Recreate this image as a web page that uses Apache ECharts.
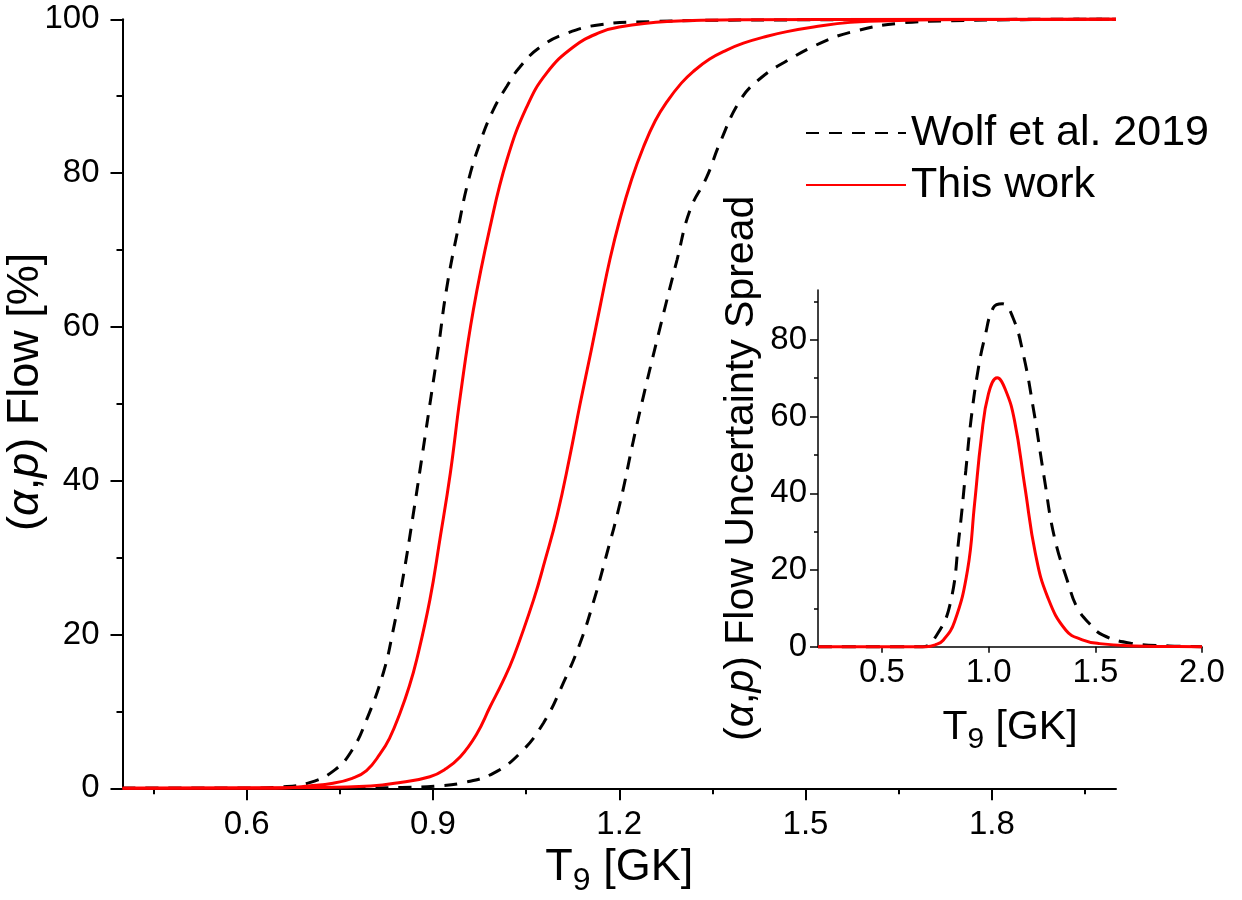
<!DOCTYPE html>
<html>
<head>
<meta charset="utf-8">
<script src="https://cdn.jsdelivr.net/npm/echarts@6/dist/echarts.min.js"></script>
<style>
html,body{margin:0;padding:0;background:#fff;}
#chart{width:1242px;height:900px;}
</style>
</head>
<body>
<div id="chart"></div>
<script>
// ---- Main panel: (alpha,p) flow [%] vs T9 ----
const wolfLowX = [0.40,0.60,0.65,0.70,0.742,0.77,0.793,0.82,0.836,0.852,0.868,0.884,0.897,0.909,0.922,0.941,0.957,0.976,0.997,1.019,1.04,1.073,1.116,1.169,1.25,1.40,2.00];
const wolfLowY = [0,0,0.15,0.7,2.4,5.0,8.9,15.0,20.6,27.5,35.5,44.0,51.0,57.5,65.0,73.0,79.0,84.0,88.2,91.3,93.8,96.4,98.2,99.3,99.7,99.9,100];

const wolfHighX = [0.40,0.70,0.85,0.906,0.949,0.997,1.040,1.078,1.110,1.137,1.158,1.180,1.201,1.223,1.239,1.266,1.293,1.314,1.341,1.362,1.395,1.427,1.470,1.524,1.572,1.652,1.733,1.85,2.00];
const wolfHighY = [0,0,0.1,0.3,0.73,1.95,4.55,8.5,13.7,18.9,24.1,30.5,37.0,45.3,51.0,60.0,68.7,75.2,79.5,83.9,89.5,92.3,94.6,96.9,98.3,99.5,99.8,99.95,100];

const thisLowX = [0.40,0.60,0.66,0.70,0.739,0.77,0.793,0.815,0.83,0.847,0.862,0.874,0.895,0.911,0.928,0.944,0.965,0.992,1.019,1.051,1.083,1.126,1.169,1.20,1.277,1.40,2.00];
const thisLowY = [0,0,0.05,0.3,0.65,1.3,2.3,4.5,6.5,9.8,13.3,16.8,24.5,32.3,41.0,51.0,62.2,73.0,81.7,88.6,93.0,96.4,98.3,99.0,99.7,99.95,100];

const thisHighX = [0.40,0.70,0.80,0.85,0.895,0.92,0.944,0.97,0.992,1.012,1.030,1.062,1.080,1.10,1.12,1.137,1.155,1.17,1.185,1.201,1.22,1.239,1.258,1.277,1.30,1.319,1.345,1.373,1.40,1.438,1.47,1.513,1.572,1.65,1.80,2.00];
const thisHighY = [0,0.1,0.3,0.8,1.5,2.5,4.1,7.0,10.6,13.8,17.1,24.5,29.5,35.5,43.0,50.0,57.0,63.0,68.8,74.0,79.2,83.4,86.8,89.3,91.7,93.2,94.8,96.0,96.9,97.8,98.4,99.0,99.6,99.85,99.97,100];

// ---- Inset: flow uncertainty spread ----
const insetWolfX = [0.20,0.69,0.756,0.820,0.861,0.893,0.917,0.950,0.982,1.023,1.064,1.113,1.162,1.211,1.260,1.308,1.373,1.413,1.471,1.536,1.667,1.846,2.00];
const insetWolfY = [0,0,3.0,11.3,28.6,46,59,72,80.7,88.5,89.4,85.9,76.3,61.6,44.2,28.6,16.5,10.4,6.1,3.0,0.9,0.2,0];

const insetThisX = [0.20,0.706,0.75,0.787,0.84,0.901,0.934,0.966,0.999,1.040,1.080,1.121,1.170,1.219,1.276,1.362,1.439,1.520,1.683,1.85,2.00];
const insetThisY = [0,0,0.5,1.7,6.5,20,37.3,54.6,65.9,70.1,66.8,59,41.6,24.3,13,4.3,1.8,0.8,0.2,0.05,0];

// ---- Tick labels ----
const mainXTicks = [0.6,0.9,1.2,1.5,1.8];
const mainXMinor = [0.45,0.75,1.05,1.35,1.65,1.95];
const insetXTicks = [0.5,1.0,1.5,2.0];
const insetYTicks = [0,20,40,60,80];
const insetYMinor = [10,30,50,70,90];

const legendNames = ['Wolf et al. 2019','This work'];

const FONT = 'Liberation Sans, Arial, sans-serif';
const pairs = (xs, ys) => xs.map((x, i) => [x, ys[i]]);

const axisLineStyle = {color:'#000', width:2};
const labelStyle = {color:'#000', fontSize:33, fontFamily:FONT};

const chart = echarts.init(document.getElementById('chart'), null, {renderer:'canvas'});

const dashed = (name, data, xi, yi, dash) => ({
  name, type:'line', data, xAxisIndex:xi, yAxisIndex:yi,
  symbol:'none', smooth:0.45, clip:false,
  itemStyle:{color:'#000'},
  lineStyle:{color:'#000', width:3, type:dash}
});
const solid = (name, data, xi, yi) => ({
  name, type:'line', data, xAxisIndex:xi, yAxisIndex:yi,
  symbol:'none', smooth:0.45, clip:false,
  itemStyle:{color:'#ff0000'},
  lineStyle:{color:'#ff0000', width:3, type:'solid'}
});

const titleRich = (size) => ({
  a:{fontSize:size, fontFamily:FONT, color:'#000', lineHeight:size*1.2},
  s:{fontSize:Math.round(size*0.72), fontFamily:FONT, color:'#000', lineHeight:size*0.6, padding:[size*0.6,0,0,0]},
  i:{fontSize:size, fontFamily:FONT, color:'#000', fontStyle:'italic', lineHeight:size*1.2}
});

const option = {
  animation:false,
  backgroundColor:'#fff',
  legend:{
    data:legendNames,
    orient:'vertical',
    left:800, top:104,
    itemWidth:100, itemHeight:20, itemGap:4,
    itemStyle:{opacity:0},
    textStyle:{color:'#000', fontSize:43, fontFamily:FONT, lineHeight:48},
    selectedMode:false
  },
  grid:[
    {left:122.5, right:126, top:19.3, bottom:111.7, outerBoundsMode:'none'},
    {left:818, right:40, top:290, bottom:253.3, outerBoundsMode:'none'}
  ],
  xAxis:[
    {
      gridIndex:0, type:'value', min:0.4, max:2.0, position:'bottom',
      axisLine:{lineStyle:axisLineStyle},
      axisTick:{customValues:mainXTicks, length:12, lineStyle:axisLineStyle},
      axisLabel:Object.assign({customValues:mainXTicks, margin:20, formatter:v=>v.toFixed(1)}, labelStyle),
      splitLine:{show:false},
      name:'{a|T}{s|9}{a| [GK]}', nameLocation:'middle', nameGap:52, nameMoveOverlap:false,
      nameTextStyle:{rich:titleRich(45)}
    },
    {
      gridIndex:0, type:'value', min:0.4, max:2.0, position:'bottom',
      axisLine:{show:false},
      axisTick:{customValues:mainXMinor, length:6, lineStyle:axisLineStyle},
      axisLabel:{show:false}, splitLine:{show:false}
    },
    {
      gridIndex:1, type:'value', min:0.2, max:2.0, position:'bottom',
      axisLine:{lineStyle:{color:'#000', width:1.5}},
      axisTick:{customValues:insetXTicks, length:6, lineStyle:{color:'#000', width:1.5}},
      axisLabel:Object.assign({customValues:insetXTicks, margin:10, formatter:v=>v.toFixed(1)}, labelStyle),
      splitLine:{show:false},
      name:'{a|T}{s|9}{a| [GK]}', nameLocation:'middle', nameGap:56, nameMoveOverlap:false,
      nameTextStyle:{rich:titleRich(41)}
    }
  ],
  yAxis:[
    {
      gridIndex:0, type:'value', min:0, max:100, interval:20, position:'left',
      axisLine:{lineStyle:axisLineStyle},
      axisTick:{length:12, lineStyle:axisLineStyle},
      minorTick:{show:true, splitNumber:2, length:6, lineStyle:axisLineStyle},
      axisLabel:Object.assign({margin:23}, labelStyle),
      splitLine:{show:false}, minorSplitLine:{show:false},
      name:'{a|(}{i|α}{a|,}{i|p}{a|) Flow [%]}', nameLocation:'middle', nameRotate:90, nameGap:70, nameMoveOverlap:false,
      nameTextStyle:{rich:titleRich(45), padding:[0,0,0,24]}
    },
    {
      gridIndex:1, type:'value', min:0, max:93, position:'left',
      axisLine:{lineStyle:{color:'#000', width:1.5}},
      axisTick:{customValues:insetYTicks, length:8, lineStyle:{color:'#000', width:1.5}},
      axisLabel:Object.assign({customValues:insetYTicks, margin:11}, labelStyle),
      splitLine:{show:false},
      name:'{a|(}{i|α}{a|,}{i|p}{a|) Flow Uncertainty Spread}', nameLocation:'middle', nameRotate:90, nameGap:52, nameMoveOverlap:false,
      nameTextStyle:{rich:titleRich(41)}
    },
    {
      gridIndex:1, type:'value', min:0, max:93, position:'left',
      axisLine:{show:false},
      axisTick:{customValues:insetYMinor, length:4, lineStyle:{color:'#000', width:1.5}},
      axisLabel:{show:false}, splitLine:{show:false}
    }
  ],
  series:[
    dashed(legendNames[0], pairs(wolfLowX, wolfLowY), 0, 0, [13,10]),
    dashed(legendNames[0], pairs(wolfHighX, wolfHighY), 0, 0, [13,10]),
    solid(legendNames[1], pairs(thisLowX, thisLowY), 0, 0),
    solid(legendNames[1], pairs(thisHighX, thisHighY), 0, 0),
    dashed(legendNames[0], pairs(insetWolfX, insetWolfY), 2, 1, [14,10]),
    solid(legendNames[1], pairs(insetThisX, insetThisY), 2, 1)
  ]
};
chart.setOption(option);
</script>
</body>
</html>
